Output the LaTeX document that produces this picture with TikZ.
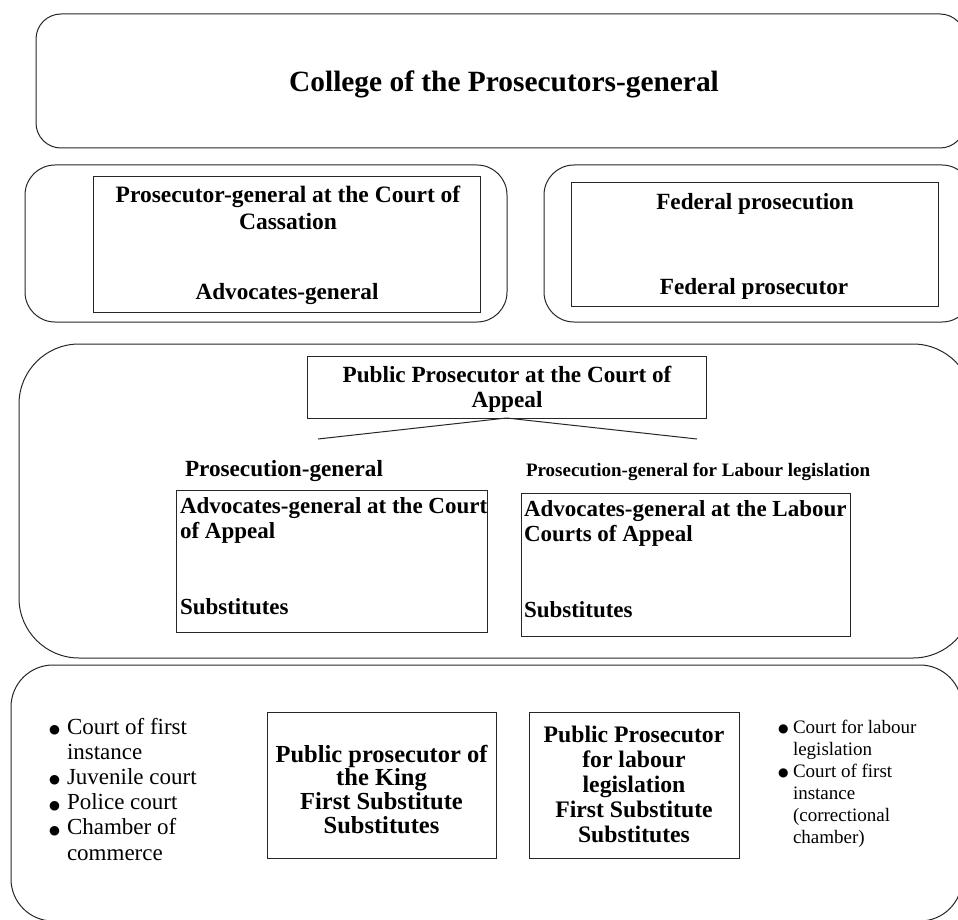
\documentclass[tikz,border=0pt]{standalone}
\usepackage{fontspec}
\setmainfont{Liberation Serif}
\newfontfamily\symf{DejaVu Sans}
\newcommand\mlc[1]{\begin{tabular}[t]{@{}c@{}}#1\end{tabular}}
\newcommand\mll[1]{\begin{tabular}[t]{@{}l@{}}#1\end{tabular}}
\newcommand\bulA{\makebox[18pt][l]{\raisebox{0.5pt}{\symf\fontsize{12.5}{12.5}\selectfont ●}}}
\newcommand\indA{\hspace*{18pt}}
\newcommand\bulB{\makebox[15pt][l]{\raisebox{0.5pt}{\symf\fontsize{12}{12}\selectfont ●}}}
\newcommand\indB{\hspace*{15pt}}
\begin{document}
\begin{tikzpicture}[x=1pt,y=-1pt,
  container/.style={draw=black!85, line width=1pt},
  frame/.style={draw=black!85, line width=0.9pt, rectangle, inner sep=0pt, outer sep=0pt, anchor=north west},
  bt/.style={inner sep=0pt, outer sep=0pt, font=\bfseries\fontsize{23.2}{26}\selectfont},
  rt/.style={inner sep=0pt, outer sep=0pt},
  link/.style={draw=black!85, line width=1pt}]
\useasboundingbox (0,0) rectangle (958,920);
\clip (0,0) rectangle (958,920);

% containers
\draw[container, rounded corners=25pt] (36,14) rectangle (965,148);
\draw[container, rounded corners=30pt] (25,165) rectangle (507,322);
\draw[container, rounded corners=30pt] (544,165) rectangle (972,322);
\draw[container, rounded corners=60pt] (19,344) rectangle (973,658);
\draw[container, rounded corners=42pt] (11,665) rectangle (962,921);

% title
\node[bt, font=\bfseries\fontsize{29.4}{30}\selectfont, anchor=base] (college) at (504,92) {College of the Prosecutors-general};

% frames
\node[frame, minimum width=387pt, minimum height=136pt] (cas) at (93,176) {};
\node[frame, minimum width=367pt, minimum height=124pt] (fed) at (571,182) {};
\node[frame, minimum width=399pt, minimum height=62pt] (pp) at (307,356) {};
\node[frame, minimum width=311pt, minimum height=142pt] (agc) at (176,490) {};
\node[frame, minimum width=329pt, minimum height=143pt] (agl) at (521,493) {};
\node[frame, minimum width=229pt, minimum height=146pt] (pk) at (267,712) {};
\node[frame, minimum width=210pt, minimum height=146pt] (pl) at (529,712) {};

% texts in second row
\node[bt, font=\bfseries\fontsize{23.5}{27}\selectfont, anchor=base] (castxt) at (288,203) {\mlc{Prosecutor-general at the Court of\\Cassation}};
\node[bt, anchor=base] (advg) at (287,299) {Advocates-general};
\node[bt, anchor=base] (fedtxt) at (755,210) {Federal prosecution};
\node[bt, anchor=base] (fedpr) at (754,294) {Federal prosecutor};

% middle
\node[bt, font=\bfseries\fontsize{23.2}{25}\selectfont, anchor=base] (pptxt) at (507,382) {\mlc{Public Prosecutor at the Court of\\Appeal}};
\coordinate (cl) at (318,439);
\coordinate (cr) at (697,439);
\draw[link] (pp.south) -- (cl);
\draw[link] (pp.south) -- (cr);
\node[bt, anchor=base west] (pg) at (185,476) {Prosecution-general};
\node[bt, font=\bfseries\fontsize{19}{21}\selectfont, anchor=base west] (pgl) at (526,476) {Prosecution-general for Labour legislation};
\node[bt, font=\bfseries\fontsize{23}{25}\selectfont, anchor=base west] (agctxt) at (180,513) {\mll{Advocates-general at the Court\\of Appeal}};
\node[bt, font=\bfseries\fontsize{23}{26}\selectfont, anchor=base west] (agcsub) at (180,614) {Substitutes};
\node[bt, font=\bfseries\fontsize{23}{25}\selectfont, anchor=base west] (agltxt) at (524,516) {\mll{Advocates-general at the Labour\\Courts of Appeal}};
\node[bt, font=\bfseries\fontsize{23}{26}\selectfont, anchor=base west] (aglsub) at (524,617) {Substitutes};

% bottom
\node[rt, font=\fontsize{23}{25.2}\selectfont, anchor=base west] (listA) at (49,734) {\mll{\bulA Court of first\\ \indA instance\\ \bulA Juvenile court\\ \bulA Police court\\ \bulA Chamber of\\ \indA commerce}};
\node[bt, font=\bfseries\fontsize{24.5}{22.7}\selectfont, anchor=base] (pktxt) at (381.5,762) {\mlc{Public prosecutor of\\the King\\First Substitute\\Substitutes}};
\node[bt, font=\bfseries\fontsize{23.7}{25}\selectfont, anchor=base] (pltxt) at (634,742) {\mlc{Public Prosecutor\\for labour\\legislation\\First Substitute\\Substitutes}};
\node[rt, font=\fontsize{19}{22}\selectfont, anchor=base west] (listB) at (778,733) {\mll{\bulB Court for labour\\ \indB legislation\\ \bulB Court of first\\ \indB instance\\ \indB (correctional\\ \indB chamber)}};
\end{tikzpicture}
\end{document}
